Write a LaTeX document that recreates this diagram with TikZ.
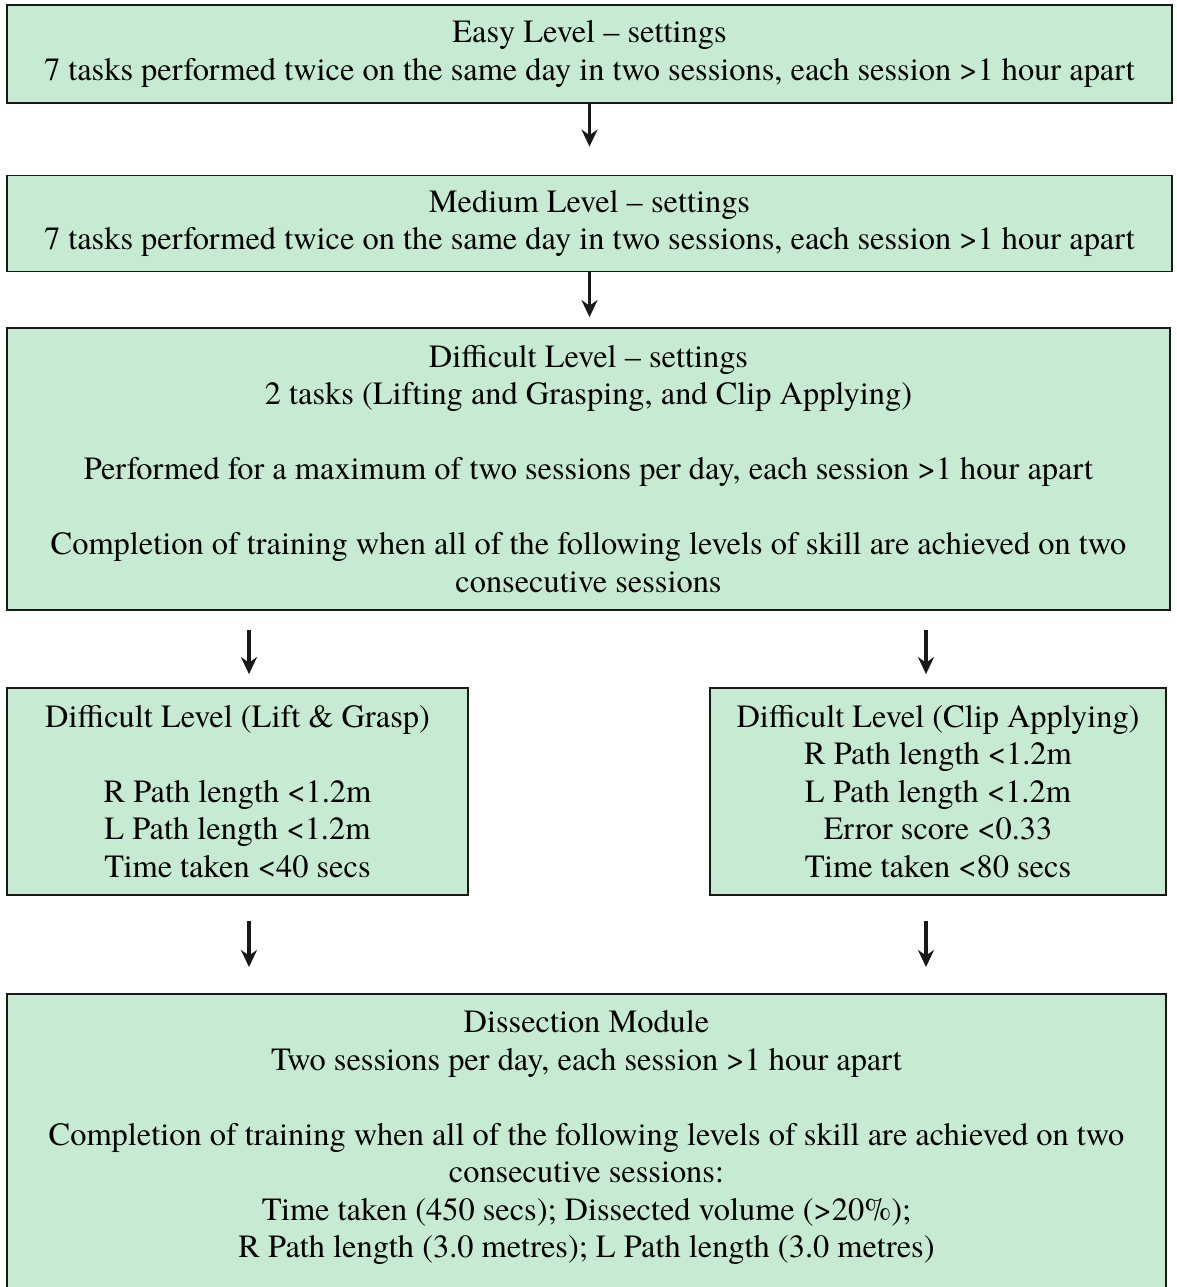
\documentclass[tikz,border=0pt]{standalone}
\usepackage{fontspec}
\setmainfont{texgyretermes}[Extension=.otf, UprightFont=*-regular, BoldFont=*-bold]
\usetikzlibrary{arrows.meta}
\definecolor{boxgreen}{RGB}{198,235,210}

\begin{document}
\begin{tikzpicture}[x=0.5pt, y=-0.5pt,
    every node/.style={rectangle, draw=black!90, line width=0.9pt, fill=boxgreen, align=center, inner sep=0pt, font=\fontsize{16.2}{18.75}\selectfont},
    flow/.style={-{Stealth[length=8.5pt, width=8pt]}, line width=1.6pt, black!90}]

    \useasboundingbox (0,0) rectangle (1177,1287);

    % Easy and medium levels
    \node (easy)[minimum width=582.5pt, minimum height=49pt] at (589.5, 54) {Easy Level -- settings\\ 7 tasks performed twice on the same day in two sessions, each session >1 hour apart};
    \node (medium)[minimum width=582.5pt, minimum height=48pt] at (589.5, 223.5) {Medium Level -- settings\\ 7 tasks performed twice on the same day in two sessions, each session >1 hour apart};

    % Difficult level
    \node (difficult)[minimum width=581.5pt, minimum height=141pt] at (588.5, 469) {Difficult Level -- settings\\ 2 tasks (Lifting and Grasping, and Clip Applying)\\[18.75pt] Performed for a maximum of two sessions per day, each session >1 hour apart\\[18.75pt] Completion of training when all of the following levels of skill are achieved on two\\ consecutive sessions};

    \node (lift)[minimum width=230.5pt, minimum height=103.5pt] at (237.5, 791.5) {Difficult Level (Lift \& Grasp)\\[18.75pt] R Path length <1.2m\\ L Path length <1.2m\\ Time taken <40 secs};
    \node (clip)[minimum width=228pt, minimum height=103.5pt] at (938, 791.5) {Difficult Level (Clip Applying)\\ R Path length <1.2m\\ L Path length <1.2m\\ Error score <0.33\\ Time taken <80 secs};

    % Dissection module (runs off the bottom)
    \node (dissect)[anchor=north, minimum width=579.5pt, inner ysep=8.4pt, text depth=40pt] at (586.5, 993) {Dissection Module\\ Two sessions per day, each session >1 hour apart\\[18.75pt] Completion of training when all of the following levels of skill are achieved on two\\ consecutive sessions:\\ Time taken (450 secs); Dissected volume (>20\%);\\ R Path length (3.0 metres); L Path length (3.0 metres)};

    \coordinate (lcol) at (249, 0);
    \coordinate (rcol) at (926, 0);

    % Arrows between levels
    \draw[flow, shorten >=14pt] (easy) -- (medium);
    \draw[flow, shorten >=5pt] (medium.south) -- (medium.south |- difficult.north);
    \draw[flow, shorten <=9.5pt, shorten >=6.5pt] (lcol |- difficult.south) -- (lcol |- lift.north);
    \draw[flow, shorten <=9.5pt, shorten >=6.5pt] (rcol |- difficult.south) -- (rcol |- clip.north);
    \draw[flow, shorten <=12.5pt, shorten >=13pt] (lcol |- lift.south) -- (lcol |- dissect.north);
    \draw[flow, shorten <=12.5pt, shorten >=13pt] (rcol |- clip.south) -- (rcol |- dissect.north);
\end{tikzpicture}
\end{document}
